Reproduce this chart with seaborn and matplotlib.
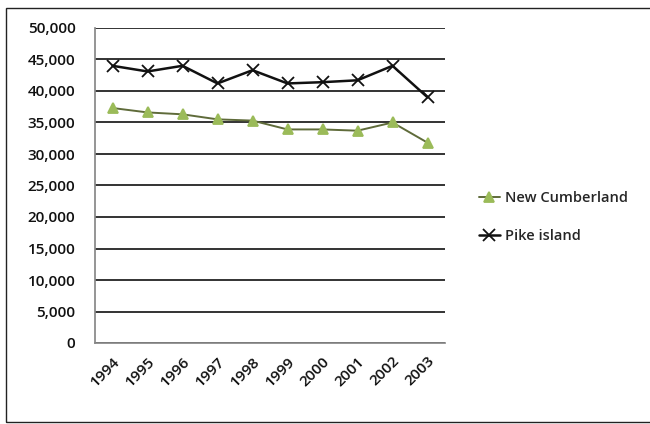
import matplotlib
matplotlib.use("Agg")
import matplotlib.pyplot as plt
import matplotlib.ticker as mtick
import seaborn as sns
import pandas as pd

anos = ['1994', '1995', '1996', '1997', '1998', '1999', '2000', '2001', '2002', '2003']
new_cumberland = [37300, 36600, 36300, 35500, 35300, 33900, 33900, 33700, 35000, 31800]
pike_island = [44000, 43100, 44000, 41200, 43300, 41200, 41400, 41700, 44000, 39000]

df = pd.DataFrame({'ano': anos, 'New Cumberland': new_cumberland, 'Pike island': pike_island})
df_long = df.melt(id_vars='ano', var_name='serie', value_name='valor')

sns.set_theme(style="white")
plt.rcParams['font.family'] = ['Open Sans', 'DejaVu Sans']

fig = plt.figure(figsize=(6.5, 4.24), dpi=100)
ax = fig.add_axes([95/650, 1 - 343/424, (445 - 95)/650, (343 - 28)/424])

cores = {'New Cumberland': '#9bbb59', 'Pike island': '#111111'}
linhas = {'New Cumberland': '#5f6b3a', 'Pike island': '#111111'}

for serie, marcador in [('New Cumberland', '^'), ('Pike island', 'x')]:
    sub = df_long[df_long['serie'] == serie]
    sns.lineplot(data=sub, x='ano', y='valor', ax=ax, color=linhas[serie],
                 linewidth=1.8 if serie == 'Pike island' else 1.4,
                 marker=marcador, markersize=8 if serie == 'Pike island' else 7,
                 markerfacecolor=cores[serie], markeredgecolor=cores[serie],
                 markeredgewidth=1.3, label=serie, sort=False)

ax.set_ylim(0, 50000)
ax.set_xlim(-0.5, len(anos) - 0.5)
ax.yaxis.set_major_locator(mtick.MultipleLocator(5000))
ax.yaxis.set_major_formatter(mtick.StrMethodFormatter('{x:,.0f}'))
ax.grid(axis='y', color='#111111', linewidth=1.2)
ax.set_axisbelow(True)
ax.set_xlabel('')
ax.set_ylabel('')

for lado in ['top', 'right']:
    ax.spines[lado].set_visible(False)
ax.spines['left'].set_color('#888888')
ax.spines['bottom'].set_color('#888888')
ax.tick_params(axis='y', labelsize=11, colors='#111111', length=0, pad=14)
ax.tick_params(axis='x', labelsize=11, colors='#111111', length=3, pad=5)
for lbl in ax.get_yticklabels():
    lbl.set_fontweight('semibold')
for lbl in ax.get_xticklabels():
    lbl.set_rotation(45)
    lbl.set_ha('right')
    lbl.set_rotation_mode('anchor')
    lbl.set_fontweight('semibold')

leg = ax.legend(loc='center left', bbox_to_anchor=(1.06, 0.4), frameon=False,
                prop={'size': 10.5, 'weight': 'semibold'},
                handlelength=1.4, handletextpad=0.4, labelspacing=1.6)

# moldura do grafico
fig.patches.append(plt.Rectangle((6/650, 0.005), 1.2, 1 - 10/424, transform=fig.transFigure,
                                 fill=False, edgecolor='#222222', linewidth=1.0))

fig.savefig('out.png', dpi=100)
